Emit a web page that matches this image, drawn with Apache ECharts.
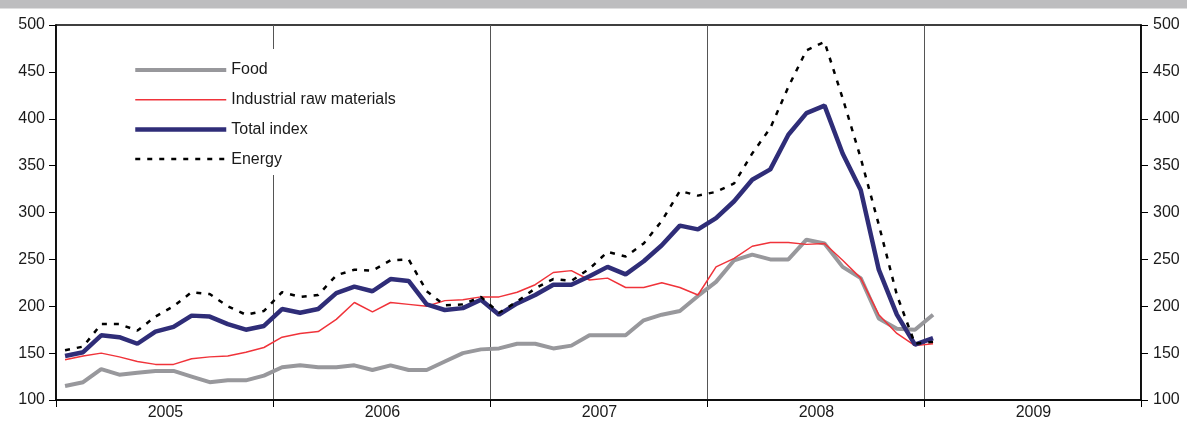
<!DOCTYPE html>
<html>
<head>
<meta charset="utf-8">
<script src="https://cdn.jsdelivr.net/npm/echarts@6/dist/echarts.min.js"></script>
<style>
html,body{margin:0;padding:0;background:#fff;}
#chart{width:1187px;height:422px;}
</style>
</head>
<body>
<div id="chart"></div>
<script>
var years = ['2005', '2006', '2007', '2008', '2009'];
var monthNames = ['01','02','03','04','05','06','07','08','09','10','11','12'];
var yTicks = [100, 150, 200, 250, 300, 350, 400, 450, 500];

var seriesNames = ['Food', 'Industrial raw materials', 'Total index', 'Energy'];

var food = [115,119,133,127,129,131,131,125,119,121,121,126,
            135,137,135,135,137,132,137,132,132,141,150,154,
            155,160,160,155,158,169,169,169,185,191,195,211,
            226,249,255,250,250,271,267,242,230,187,176,175,
            191];
var industrial = [143,147,150,146,141,138,138,144,146,147,151,156,
                  167,171,173,186,204,194,204,202,200,206,207,210,
                  210,215,223,236,238,228,230,220,220,225,220,212,
                  242,251,264,268,268,266,267,249,230,191,171,158,
                  160];
var total = [147,151,169,167,160,173,178,190,189,181,175,179,
             197,193,197,214,221,216,229,227,202,196,198,207,
             191,203,212,223,223,232,242,234,248,265,286,282,
             294,312,335,346,383,406,414,363,324,239,191,159,
             166];
var energy = [153,157,181,181,174,189,200,215,213,200,191,195,
              215,210,212,233,239,238,249,250,216,201,202,210,
              193,205,219,229,227,240,258,253,267,291,323,318,
              322,331,363,390,434,473,482,422,358,287,212,160,
              162];

var months = [];
years.forEach(function (y) { monthNames.forEach(function (m) { months.push(y + '-' + m); }); });

var FONT = 'Liberation Sans, Arial, Helvetica, sans-serif';
var chart = echarts.init(document.getElementById('chart'), null, {renderer: 'canvas'});

function yAxisCfg(pos) {
  return {
    type: 'value', position: pos, min: yTicks[0], max: yTicks[yTicks.length - 1], interval: 50,
    axisLine: {show: true, lineStyle: {color: '#000', width: 1.5}},
    axisTick: {show: true, length: 7, lineStyle: {color: '#000', width: 1}},
    axisLabel: {color: '#1a1a1a', fontSize: 16, fontFamily: FONT, margin: pos === 'left' ? 11 : 12},
    splitLine: {show: false}
  };
}

chart.setOption({
  animation: false,
  backgroundColor: '#fff',
  graphic: [{
    type: 'rect', left: 0, top: 0, shape: {width: 1187, height: 8.5},
    style: {fill: '#bdbdbf'}, silent: true
  }],
  grid: {left: 56, right: 46, top: 25, bottom: 22, show: true, borderColor: '#000', borderWidth: 1.5, backgroundColor: 'transparent'},
  legend: {
    data: seriesNames, orient: 'vertical', left: 123, top: 49,
    itemWidth: 91, itemHeight: 14, itemGap: 13.7,
    padding: [13, 10, 8, 10], backgroundColor: '#fff',
    itemStyle: {opacity: 0},
    lineStyle: {width: 'inherit'},
    textStyle: {fontSize: 16, fontFamily: FONT, color: '#1a1a1a'}
  },
  xAxis: {
    type: 'category', data: months, boundaryGap: true,
    axisLine: {show: true, lineStyle: {color: '#000', width: 1.5}},
    axisTick: {show: true, interval: 11, length: 7, lineStyle: {color: '#000', width: 1}},
    axisLabel: {
      interval: function (idx) { return idx % 12 === 5; },
      formatter: function (v) { return v.slice(0, 4); },
      padding: [0, 0, 0, 20],
      fontSize: 16, fontFamily: FONT, color: '#1a1a1a', margin: 5
    },
    splitLine: {show: true, interval: 11, lineStyle: {color: '#555', width: 1}}
  },
  yAxis: [yAxisCfg('left'), yAxisCfg('right')],
  series: [
    {name: seriesNames[0], type: 'line', data: food, symbol: 'none', lineStyle: {color: '#98989c', width: 4}, itemStyle: {color: '#98989c'}},
    {name: seriesNames[1], type: 'line', data: industrial, symbol: 'none', lineStyle: {color: '#f0333a', width: 1.5}, itemStyle: {color: '#f0333a'}},
    {name: seriesNames[2], type: 'line', data: total, symbol: 'none', lineStyle: {color: '#2f2d78', width: 4.5}, itemStyle: {color: '#2f2d78'}},
    {name: seriesNames[3], type: 'line', data: energy, symbol: 'none', lineStyle: {color: '#000', width: 2.5, type: [5, 7]}, itemStyle: {color: '#000'}}
  ]
});
</script>
</body>
</html>
